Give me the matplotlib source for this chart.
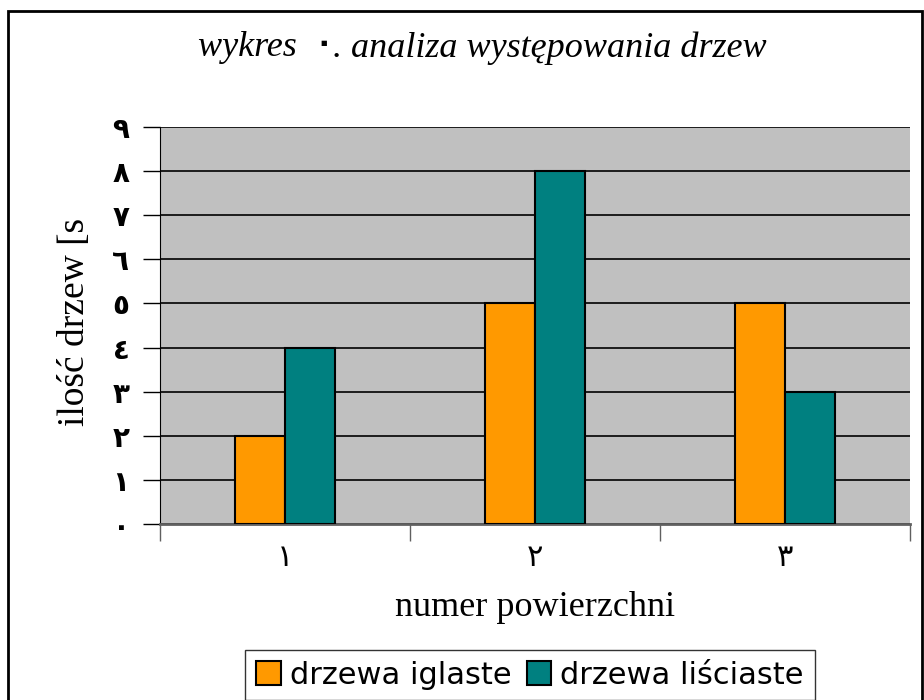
import numpy as np
import matplotlib.pyplot as plt
from matplotlib.patches import Rectangle

categories = ['١', '٢', '٣']
iglaste = [2, 5, 5]
lisciaste = [4, 8, 3]
y_ticklabels = ['٠', '١', '٢', '٣', '٤', '٥', '٦', '٧', '٨', '٩']
series_names = ['drzewa iglaste', 'drzewa liściaste']
title_parts = ['wykres  ', '٠', '. analiza występowania drzew']

serif = ['Liberation Serif', 'DejaVu Sans']

fig = plt.figure(figsize=(9.24, 7.0), dpi=100)
ax = fig.add_axes([160 / 924, 1 - 524 / 700, 750 / 924, 397 / 700])

x = np.arange(len(categories))
w = 0.2
b1 = ax.bar(x - w / 2, iglaste, w, color='#FF9900', edgecolor='black', linewidth=1.5, zorder=3)
b2 = ax.bar(x + w / 2, lisciaste, w, color='#008080', edgecolor='black', linewidth=1.5, zorder=3)

ax.set_facecolor('#C0C0C0')
ax.set_xlim(-0.5, 2.5)
ax.set_ylim(0, 9)
ax.set_yticks(range(10))
ax.set_yticklabels(y_ticklabels, fontsize=20, family='DejaVu Sans', weight='bold')
ax.yaxis.grid(True, color='black', linewidth=1.2, zorder=1)
ax.set_axisbelow(True)
ax.tick_params(axis='y', length=12, width=1, pad=10)

# category ticks sit between groups, labels in the middle
ax.set_xticks([-0.5, 0.5, 1.5, 2.5])
ax.set_xticklabels([])
ax.set_xticks(x, minor=True)
ax.set_xticklabels(categories, minor=True, fontsize=22, family='DejaVu Sans')
ax.tick_params(axis='x', which='minor', length=0, pad=14)
ax.tick_params(axis='x', which='major', length=12, width=1, color='#606060')

for s in ['top', 'right']:
    ax.spines[s].set_visible(False)
ax.spines['left'].set_color('black')
ax.spines['bottom'].set_color('#606060')
ax.spines['bottom'].set_linewidth(2)

ax.set_xlabel('numer powierzchni', fontsize=26, family=serif, labelpad=13)
fig.text(75 / 924, 1 - 322 / 700, 'ilość drzew [s', rotation=90, fontsize=27,
         family=serif, ha='center', va='center')

# title drawn in pieces so the Arabic zero can use a font that has it
renderer = fig.canvas.get_renderer()
pieces = []
for i, part in enumerate(title_parts):
    if i == 1:
        t = fig.text(0, 1 - 44 / 700, part, fontsize=22, family='DejaVu Sans',
                     weight='bold', va='center')
    else:
        t = fig.text(0, 1 - 48 / 700, part, fontsize=26, family=serif,
                     style='italic', va='center')
    pieces.append(t)
widths = [p.get_window_extent(renderer).width for p in pieces]
xpos = (924 - sum(widths)) / 2 + 20
for p, wd in zip(pieces, widths):
    p.set_x(xpos / 924)
    xpos += wd

leg = fig.legend([b1, b2], series_names, loc='center', bbox_to_anchor=(530 / 924, 1 - 675 / 700),
                 ncol=2, frameon=True, fancybox=False, edgecolor='black',
                 handlelength=0.8, handleheight=0.8, handletextpad=0.3, columnspacing=0.5,
                 borderpad=0.35, prop={'family': 'DejaVu Sans', 'size': 22})
leg.get_frame().set_linewidth(1)

fig.patches.append(Rectangle((8 / 924, -0.01), 914 / 924, 1 - 11 / 700 + 0.01,
                             transform=fig.transFigure, fill=False, edgecolor='black',
                             linewidth=2))

fig.savefig('out.png', dpi=100)
